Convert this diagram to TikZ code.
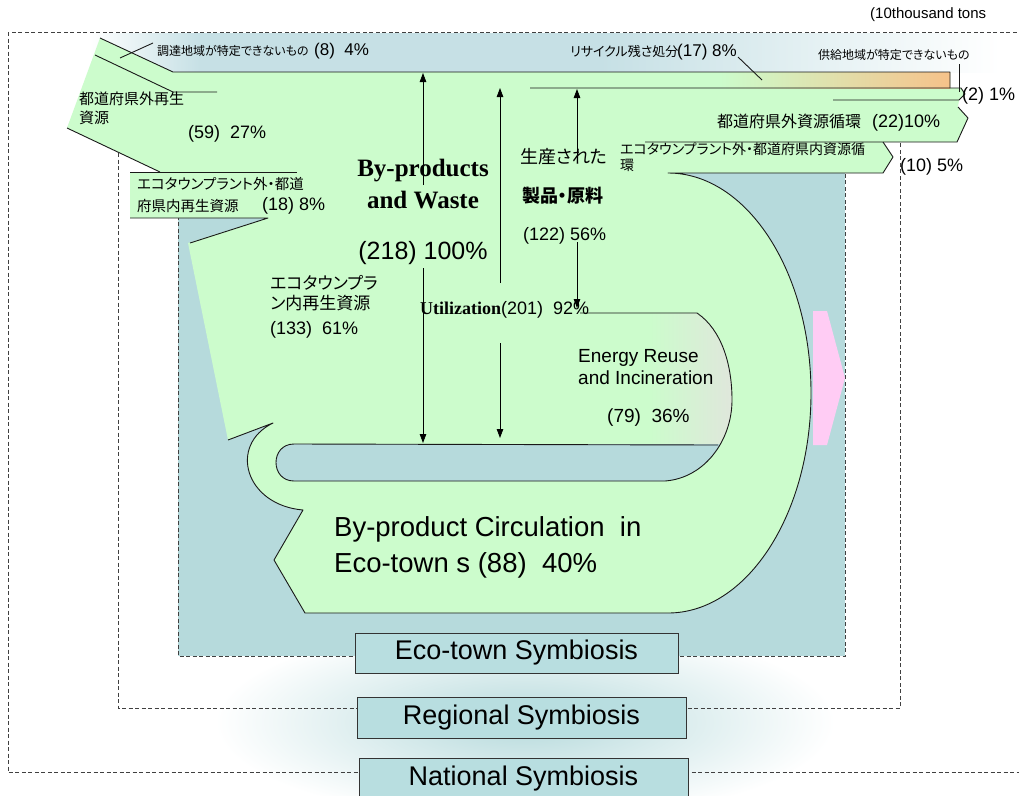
\documentclass[tikz,border=0pt]{standalone}
\usepackage{fontspec}
\setmainfont{Liberation Sans}
\newfontfamily\jpfont[RawFeature=+palt]{Noto Sans CJK JP}
\newfontfamily\tmsfont{Liberation Serif}
\usetikzlibrary{arrows.meta}
\definecolor{flowgreen}{RGB}{204,252,204}
\definecolor{townteal}{RGB}{182,218,220}
\definecolor{boxteal}{RGB}{184,222,224}
\definecolor{bandblue}{RGB}{198,224,229}
\definecolor{wastepeach}{RGB}{246,194,138}
\definecolor{energygrey}{RGB}{224,230,220}
\definecolor{exportpink}{RGB}{255,204,244}
\newcommand\setsz[2]{\fontsize{#1}{#2}\selectfont}
\tikzset{
  greenfill/.style={fill=flowgreen},
  flowline/.style={line width=0.9pt, draw=black!90, line join=round},
  zone/.style={draw=black!75, line width=0.7pt, dash pattern=on 4pt off 2.5pt},
  dimarrow/.style={line width=0.8pt, draw=black, -{Triangle[length=9pt,width=6.5pt]}},
  lbl/.style={inner sep=0pt, anchor=west},
  levelbox/.style={draw=black!80, line width=0.9pt, fill=boxteal, inner sep=0pt, font=\setsz{27}{30}},
}
\begin{document}
\begin{tikzpicture}[x=1pt, y=-1pt]
		%%%%% START %%%%%
		\useasboundingbox (0,0) rectangle (1019,795);
		\fill[white] (0,0) rectangle (1019,795);
		
		% background shading
		\shade[left color=white, right color=bandblue] (90,33) rectangle (200,72);
		\fill[bandblue] (200,33) rectangle (600,72);
		\shade[left color=bandblue, right color=white] (600,33) rectangle (1000,72);
		\shade[inner color=townteal, outer color=white] (525,722) ellipse (310 and 100);
		
		% symbiosis zones
		\draw[zone] (8,32) rectangle (1030,772);
		\draw[zone] (118,88) rectangle (900,708);
		\fill[townteal] (178,170) rectangle (845,656);
		\draw[zone] (178,170) rectangle (845,656);
		
		% main flow
		\fill[greenfill] (100,38) -- (173,72) -- (950,72) -- (950,88) -- (961,88) -- (965,94) -- (959,100) -- (958,107) -- (968,118) -- (957,142) -- (883,142) -- (893,157) -- (883,173) -- (668,173) .. controls (747,173) and (811,272) .. (811,393) .. controls (811,514) and (747,613) .. (668,613) -- (305,613) -- (274,560) -- (303,510) .. controls (245,505) and (228,445) .. (273,423) -- (228,440) -- (188,243) -- (268,218) -- (130,218) -- (130,172) -- (160,172) -- (67,128) -- cycle;
		\shade[left color=flowgreen, right color=wastepeach] (720,72) rectangle (950,88);
		
		\begin{scope}
			\clip (260,313) -- (697,313) .. controls (722,330) and (732,365) .. (732,400) .. controls (732,440) and (705,478) .. (665,481) -- (260,481) -- cycle;
			\shade[left color=flowgreen, right color=energygrey] (650,313) rectangle (735,444);
			\fill[townteal] (740,444) -- (294,444) .. controls (270,444) and (270,481) .. (294,481) -- (740,481) -- cycle;
		\end{scope}
		
		\fill[exportpink] (813,311) -- (827,311) -- (845,378) -- (827,445) -- (813,445) -- cycle;
		
		% outlines
		\draw[flowline] (100,38) -- (173,72) -- (950,72) -- (950,88);
		\draw[flowline] (95,55) -- (173,92) -- (217,92);
		\draw[flowline] (67,128) -- (160,172);
		\draw[flowline] (130,172) -- (297,172);
		\draw[flowline] (130,218) -- (268,218) -- (190,243);
		\draw[flowline] (228,440) -- (273,423) .. controls (228,445) and (245,505) .. (303,510) -- (274,560) -- (305,613) -- (668,613) .. controls (747,613) and (811,514) .. (811,393) .. controls (811,272) and (747,173) .. (668,173) -- (883,173) -- (893,157) -- (883,142);
		\draw[flowline] (645,142) -- (957,142) -- (968,118) -- (958,107);
		\draw[flowline] (530,88) -- (961,88) -- (965,94) -- (959,100) -- (833,100);
		\draw[flowline] (580,313) -- (697,313) .. controls (722,330) and (732,365) .. (732,400) .. controls (732,440) and (705,478) .. (665,481) -- (294,481) .. controls (270,481) and (270,444) .. (294,444) -- (718,445);
		
		% leaders
		\draw[flowline] (120,58) -- (153,43);
		\draw[flowline] (738,57) -- (762,80);
		\draw[flowline] (959,64) -- (959,92);
		
		% dimension arrows
		\draw[dimarrow] (423,185) -- (423,73);
		\draw[dimarrow] (423,268) -- (423,443);
		\draw[dimarrow] (500,283) -- (500,88);
		\draw[dimarrow] (500,343) -- (500,438);
		\draw[dimarrow] (577,155) -- (577,89);
		\draw[dimarrow] (577,242) -- (577,308);
		
		% labels
		\node[lbl, font=\setsz{15}{17}] (unit) at (870,15) {(10thousand tons};
		\node[lbl, font=\setsz{12}{14}\jpfont] (procure) at (157,51) {調達地域が特定できないもの};
		\node[lbl, font=\setsz{17}{19}] (procureval) at (314,51) {(8)~~4\%};
		\node[lbl, font=\setsz{15}{19}\jpfont, align=left] (outside) at (79,108) {都道府県外再生\\資源};
		\node[lbl, font=\setsz{18}{20}] (outsideval) at (188,134) {(59)~~27\%};
		\node[lbl, font=\setsz{14.5}{22}\jpfont, align=left] (plantout) at (137,195) {エコタウンプラント外・都道\\府県内再生資源};
		\node[lbl, font=\setsz{18}{20}] (plantoutval) at (262,206) {(18) 8\%};
		\node[inner sep=0pt, font=\setsz{25}{32}\tmsfont\bfseries, align=center] (byprod) at (423,184) {By-products\\and Waste};
		\node[inner sep=0pt, font=\setsz{25}{27}] (total) at (423,253) {(218) 100\%};
		\node[lbl, font=\setsz{17}{20}\jpfont, align=left] (inplant) at (270,293) {エコタウンプラ\\ン内再生資源};
		\node[lbl, font=\setsz{18}{20}] (inplantval) at (270,330) {(133)~~61\%};
		\node[lbl, font=\setsz{18}{20}\jpfont] (made) at (520,157) {生産された};
		\node[lbl, font=\setsz{18}{20}\jpfont\bfseries] (goods) at (522,196) {製品・原料};
		\node[lbl, font=\setsz{18}{20}] (goodsval) at (523,236) {(122) 56\%};
		\node[lbl, font=\setsz{18}{20}] (util) at (420,310) {{\tmsfont\bfseries Utilization}(201)~~92\%};
		\node[lbl, font=\setsz{13}{15}\jpfont] (residue) at (570,52) {リサイクル残さ処分};
		\node[lbl, font=\setsz{17}{19}] (residueval) at (677,52) {(17) 8\%};
		\node[lbl, font=\setsz{12}{14}\jpfont] (supply) at (818,55) {供給地域が特定できないもの};
		\node[lbl, font=\setsz{18}{20}] (supplyval) at (962,96) {(2) 1\%};
		\node[lbl, font=\setsz{16}{18}\jpfont] (export) at (717,121) {都道府県外資源循環};
		\node[lbl, font=\setsz{18}{20}] (exportval) at (872,123) {(22)10\%};
		\node[lbl, font=\setsz{14}{16}\jpfont, align=left] (prefin) at (620,157) {エコタウンプラント外・都道府県内資源循\\環};
		\node[lbl, font=\setsz{18}{20}] (prefinval) at (900,167) {(10) 5\%};
		\node[lbl, font=\setsz{19}{22}, align=left] (energy) at (578,367) {Energy Reuse\\and Incineration};
		\node[lbl, font=\setsz{19}{22}] (energyval) at (607,418) {(79)~~36\%};
		\node[lbl, font=\setsz{27.5}{36}, align=left] (circ) at (334,547) {By-product Circulation~~in\\Eco-town s (88)~~40\%};
		
		% symbiosis levels
		\node[levelbox, minimum width=323pt, minimum height=40pt] (ecotown) at (516.5,653) {Eco-town Symbiosis};
		\node[levelbox, minimum width=329pt, minimum height=41pt] (regional) at (521.5,717.5) {Regional Symbiosis};
		\node[levelbox, minimum width=329pt, minimum height=42pt] (national) at (523.5,779) {National Symbiosis};
		
		%%%%% END %%%%%
	\end{tikzpicture}
\end{document}
